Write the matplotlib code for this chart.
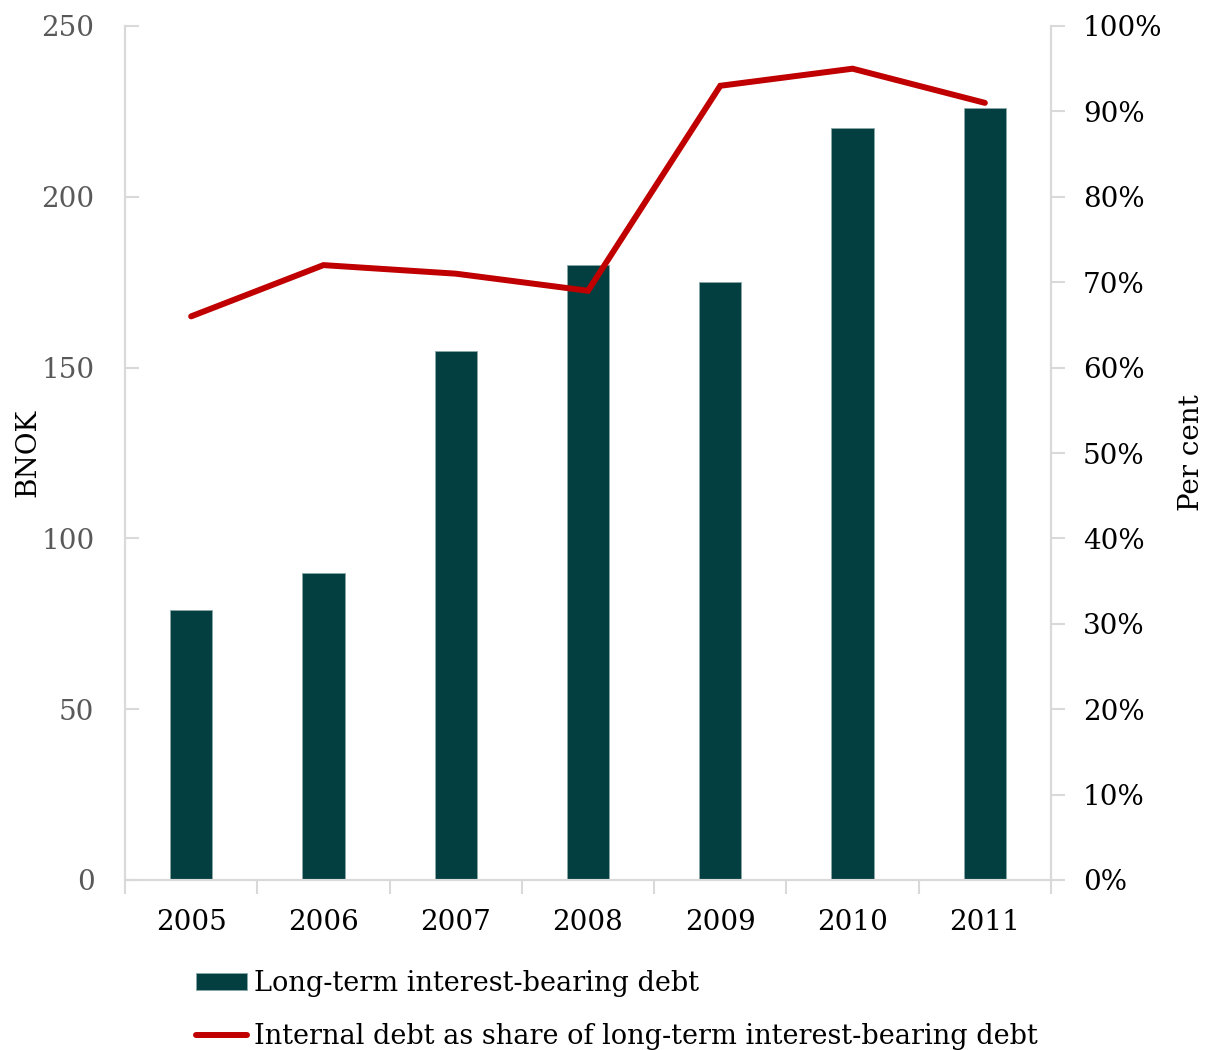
import matplotlib
matplotlib.use("Agg")
import matplotlib.pyplot as plt
from matplotlib.ticker import FuncFormatter, FixedLocator
import numpy as np

years = ["2005", "2006", "2007", "2008", "2009", "2010", "2011"]
debt_bnok = [79, 90, 155, 180, 175, 220, 226]
internal_share = [66, 72, 71, 69, 93, 95, 91]
left_ticks = [0, 50, 100, 150, 200, 250]
right_ticks = [0, 10, 20, 30, 40, 50, 60, 70, 80, 90, 100]

plt.rcParams['font.family'] = ['DejaVu Serif']

bar_color = '#033F40'
line_color = '#C00000'
spine_color = '#D9D9D9'

fig = plt.figure(figsize=(12.08, 10.5), dpi=100)
ax = fig.add_axes([125/1208, 1-880/1050, (1051-125)/1208, (880-26)/1050])
ax2 = ax.twinx()

x = np.arange(len(years))
bars = ax.bar(x, debt_bnok, width=0.32, color=bar_color, edgecolor='#8AA8A8', linewidth=0.6,
              label='Long-term interest-bearing debt', zorder=2)
ln, = ax2.plot(x, internal_share, color=line_color, lw=4.3, solid_capstyle='round',
               solid_joinstyle='miter', label='Internal debt as share of long-term interest-bearing debt')

ax.set_xlim(-0.5, len(years)-0.5)
ax.set_ylim(0, 250)
ax2.set_ylim(0, 100)
ax.set_yticks(left_ticks)
ax2.set_yticks(right_ticks)
ax2.yaxis.set_major_formatter(FuncFormatter(lambda v, p: f"{int(v)}%"))

ax.set_xticks(x)
ax.set_xticklabels(years)
ax.xaxis.set_minor_locator(FixedLocator(np.arange(-0.5, len(years), 1.0)))
ax.tick_params(axis='x', which='major', length=0, pad=21, labelsize=20, colors='black')
ax.tick_params(axis='x', which='minor', length=10, width=1.5, direction='out', color=spine_color)
ax.tick_params(axis='y', which='major', length=10, width=1.5, direction='in', color=spine_color,
               pad=22, labelsize=20, labelcolor='#595959')
ax2.tick_params(axis='y', which='major', length=10, width=1.5, direction='out', color=spine_color,
                pad=13, labelsize=20, labelcolor='black')

for a in (ax, ax2):
    a.spines['top'].set_visible(False)
    for s in ('left', 'right', 'bottom'):
        a.spines[s].set_color(spine_color)
        a.spines[s].set_linewidth(1.5)

ax.set_ylabel('BNOK', fontsize=20, labelpad=0)
ax2.set_ylabel('Per cent', fontsize=20, labelpad=11)

ax2.set_zorder(ax.get_zorder() + 1)
ax2.patch.set_visible(False)

fig.legend(handles=[bars, ln], loc='upper left', bbox_to_anchor=(196/1208, 1-970/1050),
           frameon=False, fontsize=19.5, handlelength=1.9, handleheight=0.55, handletextpad=0.25,
           labelspacing=0.95, borderpad=0, borderaxespad=0)

fig.savefig('out.png', dpi=100)
